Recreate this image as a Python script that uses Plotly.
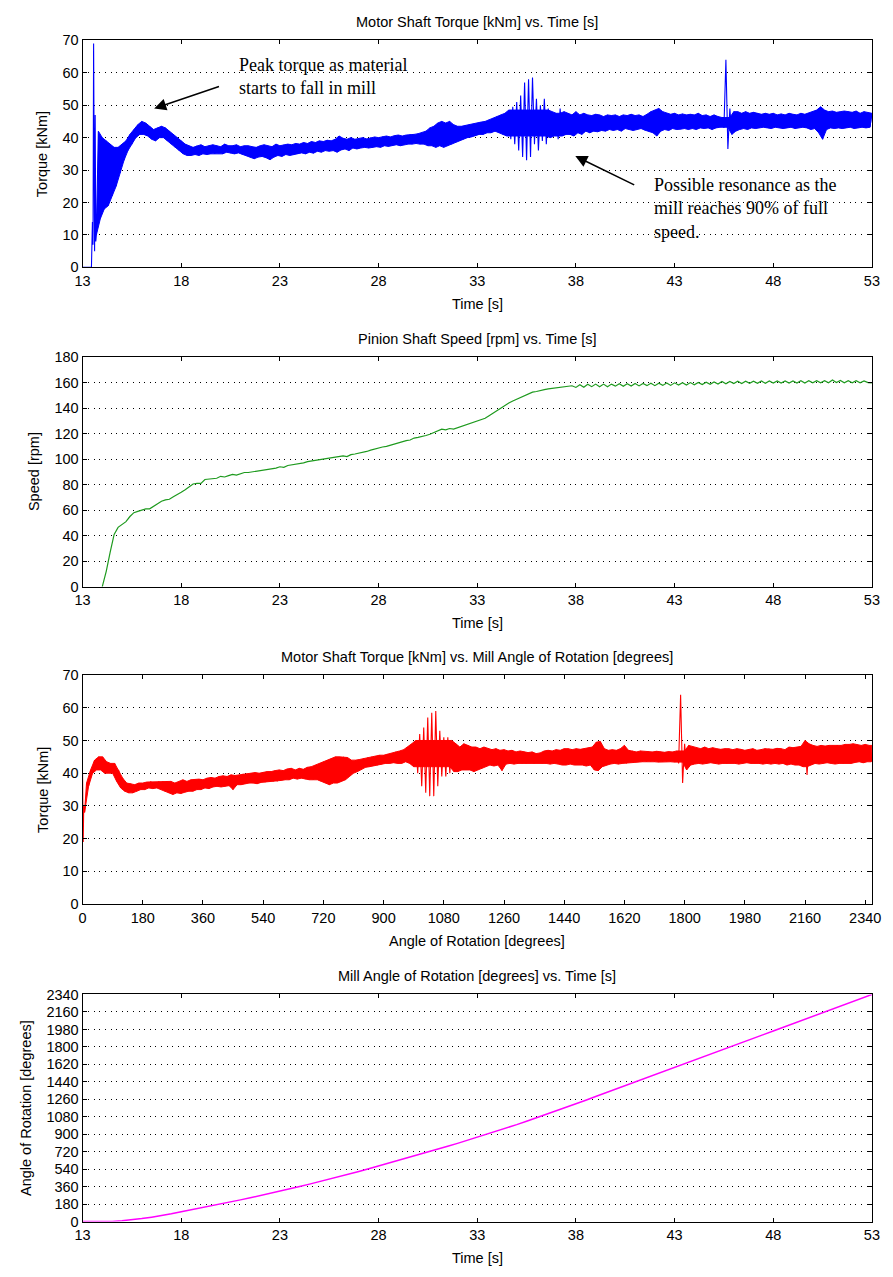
import numpy as np
import plotly.graph_objects as go

W, H = 893, 1277

# ---------------- Panel 1: Motor shaft torque vs time (blue) ----------------
torque_start_t = [13.0, 13.45, 13.5, 13.53, 13.56, 13.58, 13.61, 13.64, 13.67]
torque_start_v = [0, 0, 14, 7, 69, 12, 5, 47, 8]
torque_t0, torque_dt = 13.7, 0.2
torque_lo = [
    10, 15, 18, 19, 22, 25, 29, 33, 36, 38,
    40, 41, 41, 40.5, 39.5, 39, 40, 40, 39, 38,
    37, 36, 35, 34.5, 34.5, 34.8, 34.5, 35, 34.8, 35,
    35, 35.2, 35, 35.5, 35.2, 35, 35.3, 34.8, 34.5, 34,
    33.5, 34, 34.2, 33.8, 33.2, 34, 34.5, 34.2, 34.8, 34.5,
    34.8, 35, 35.3, 35, 35.5, 35.2, 35.8, 35.5, 36, 35.8,
    36, 35.5, 36.2, 36.5, 36, 36.8, 36.5, 36.8, 37, 36.8,
    37, 37.2, 37, 37.5, 37.3, 37.5, 37.8, 37.5, 37.8, 38,
    38, 38.2, 38, 38, 37.5, 37.5, 37, 37.5, 37, 37.5,
    38, 38.5, 39, 39.5, 40, 40.2, 40.5, 41, 41, 41.5,
    41.5, 42, 41.5, 41, 40.5, 39.5, 38, 36, 34, 33,
    34, 38, 36, 39, 38, 40, 40.5, 39.5, 40.5, 41,
    41, 40.5, 41.5, 41, 42, 41.5, 42, 41.8, 42.2, 42,
    42.5, 42.2, 42.5, 42, 42.8, 42.5, 42.2, 42.5, 42.8, 42.3,
    42, 41.5, 40.5, 42, 42.5, 42.2, 42.8, 42.5, 42.6, 42.8,
    42.5, 42.8, 42.5, 43, 42.8, 43, 42.5, 43, 43.2, 43,
    36.5, 41, 42, 42.5, 42.8, 42.5, 43, 42.8, 43, 43.2,
    43, 42.8, 43.2, 43, 42.8, 43, 43.2, 42.8, 43, 43.2,
    43, 42.5, 42.8, 41.5, 39.5, 42.5, 43, 42.8, 43, 42.8,
    43, 43.2, 42.8, 43, 43.2, 43, 43.2,
]
torque_hi = [
    42, 40, 39, 38, 37, 37, 38, 39, 41, 42.5,
    44, 45, 44.5, 43.5, 42.5, 43, 43.5, 43, 42, 41,
    40, 39, 38, 37.5, 37, 37.5, 37.8, 37.2, 37.5, 37.8,
    37.5, 37.2, 38, 37.5, 37.5, 37.8, 37.2, 37.5, 37.5, 37.2,
    37, 37.5, 37.8, 37.5, 37.2, 38, 37.5, 37.8, 38, 37.8,
    38.2, 38, 38.5, 38.2, 38.8, 38.5, 39, 38.8, 39.2, 39,
    39.5, 40.5, 39.8, 39.5, 40, 39.5, 39.8, 40, 39.6, 40,
    40.2, 40, 40.3, 40.5, 40.2, 40.6, 40.8, 40.5, 40.8, 41,
    41, 41.2, 41.5, 42, 43, 43.5, 44.5, 45, 44.5, 45,
    44, 43.5, 43.5, 43.8, 44, 44.2, 44.5, 44.8, 45, 45.5,
    46, 46.5, 47, 47.5, 48.5, 49.5, 51, 53, 57, 58,
    58.5, 52, 50, 52, 49, 48, 47.5, 49, 48, 47.5,
    47, 48, 47, 47.5, 47, 46.8, 47.2, 47, 46.5, 47,
    46.8, 47, 46.5, 47, 46.8, 47.2, 46.8, 47, 46.5, 47.2,
    48, 48.5, 49, 48, 47.5, 47.2, 47.5, 47, 47.3, 47,
    47.2, 47, 47.5, 46.8, 47, 46.5, 47, 46.5, 46.2, 64,
    49, 48, 48, 47.5, 48, 47.5, 47.8, 47.5, 47.2, 47.5,
    47.2, 47.5, 47, 47.3, 47, 47.5, 47.2, 47, 47.5, 47.2,
    47.5, 48, 48.5, 49.5, 48.5, 48, 48.2, 47.8, 48, 48.2,
    48, 47.8, 48.2, 47.5, 48, 47.8, 47.5,
]

# ---------------- Panel 2: Pinion shaft speed vs time (green) ----------------
speed_t0, speed_dt = 14.0, 0.2
speed_rpm = [
    0, 12, 27, 41, 46.5, 49, 51, 55, 58, 59,
    60, 61, 61, 63, 65.5, 67, 68, 68.5, 70.5, 72,
    74, 76, 78.5, 80.5, 81, 81, 84, 84.5, 84.5, 85,
    86.5, 86, 87, 88, 87.5, 88.5, 89.5, 89.5, 90, 90.5,
    91, 91.5, 92, 92, 93, 94, 93.5, 95, 95.5, 96,
    96, 97, 98, 98.5, 98.5, 99.5, 100, 100.5, 101, 101,
    102, 102.5, 102, 103.5, 104, 104.5, 105, 106, 107, 108,
    108.5, 109.5, 110, 111, 111.5, 112.5, 113.5, 114.5, 115, 116.5,
    117, 117.5, 118.5, 119.5, 121, 122.5, 123.5, 123, 124, 123.5,
    124.5, 126, 127, 128, 129, 130, 130.5, 132, 134, 136,
    138, 140, 142.5, 144, 145.5, 147, 148.5, 150, 151.5, 152.5,
    153, 154, 154.5, 155, 155.5, 155.5, 156.5, 157, 157, 157.5,
    156.2, 158.3, 156.3, 158.7, 156.8, 158.8, 156.8, 158.8, 156.8, 158.8,
    157.2, 159.1, 157.1, 159.1, 157.3, 159.3, 157.4, 159.3, 157.6, 159.5,
    157.6, 159.5, 157.8, 159.7, 157.8, 159.8, 158, 159.9, 158.1, 160,
    158.3, 160.1, 158.4, 160.3, 158.6, 160.5, 158.8, 160.8, 159.1, 160.9,
    159.2, 161, 159.3, 161.1, 159.4, 161.1, 159.4, 161.2, 159.5, 161.2,
    159.6, 161.3, 159.6, 161.3, 159.6, 161.3, 159.7, 161.4, 159.7, 161.4,
    159.8, 161.4, 159.8, 161.5, 159.8, 162, 160, 161.6, 159.9, 161.5,
    159.9, 161.5, 159.8, 161.3, 160, 159.8,
]

# ---------------- Panel 3: Torque vs mill angle (red) ----------------
red_start_a = [0, 0.8, 2, 3.5]
red_start_v = [40, 22, 19, 30]
red_a0, red_da = 6, 12
red_lo = [
    28, 36, 40, 41, 41, 40, 40, 40, 37.5, 35.5,
    34.5, 34, 34, 34.5, 35, 35, 35.5, 35.3, 35.5, 35,
    34.5, 34, 33.5, 34, 33.8, 34.2, 34.5, 34.5, 35, 35,
    35.5, 35.3, 35.8, 36, 35.8, 36, 36.2, 35, 36.5, 36.5,
    36.8, 37, 37, 36.8, 37.2, 37.3, 37.5, 37.5, 37.5, 37.8,
    38, 38, 38.5, 38.2, 38.5, 38.2, 38, 38, 38, 37.5,
    37, 36.5, 37, 37, 37.5, 38, 39, 40, 40.5, 41.2,
    41.8, 42, 42.3, 42.5, 42.8, 43, 43, 43.2, 43, 43,
    43.5, 43, 42, 40, 36, 34, 33, 33, 36, 39,
    39, 40, 40.5, 40.5, 41, 41, 41, 40.5, 41, 41.5,
    42, 42.5, 42.2, 42.5, 40.8, 42.8, 43, 42.8, 43, 43,
    43, 43.2, 43, 43.2, 43, 43, 42.8, 43, 42.8, 42.5,
    42.5, 42.8, 42.5, 42.6, 42.5, 42.2, 42.5, 41, 40.8, 42,
    42.5, 42.8, 43, 42.8, 43, 43, 43.2, 43.3, 43.5, 43.5,
    43.5, 43.6, 43.5, 43.4, 43.5, 43.6, 43.5, 43.4, 43, 37,
    41, 42.5, 42.8, 43, 42.8, 43, 43.2, 43, 42.8, 43,
    43, 43.2, 43, 42.8, 43, 43.2, 43, 43.1, 43, 42.8,
    43, 42.8, 43, 42.8, 43, 42.5, 42.8, 42.5, 42.5, 42,
    39.5, 42.5, 43, 42.8, 43, 43.2, 43, 42.8, 43, 43,
    43.2, 43, 43.3, 43.5, 43.2, 43.5, 43.5,
]
red_hi = [
    37, 41, 44, 45, 45, 43.5, 43, 43, 41, 38.5,
    37, 36.8, 36.5, 37, 37, 37.3, 37.5, 37.3, 37.5, 37.5,
    37.5, 37.5, 37, 37.5, 38, 37.5, 38, 38, 38.2, 38,
    38.5, 38.7, 38.5, 39, 39.2, 39, 39.5, 39.3, 39.5, 39.8,
    39.8, 40, 40.2, 40, 40.3, 40.5, 40.5, 40.8, 41, 40.8,
    41.3, 41.5, 41, 41.5, 41.2, 41.8, 42, 42.5, 42.8, 43.5,
    44, 44.5, 45, 45, 45, 44.8, 44, 44, 44.2, 44.5,
    44.8, 45, 45.2, 45.5, 45.5, 45.8, 46, 46.5, 46.8, 47.2,
    48, 49, 50, 52, 54, 57, 58.5, 59, 53, 51,
    51, 50, 49, 48, 49, 48.5, 48, 48, 47.5, 48,
    47.5, 47.2, 47.5, 47, 47.2, 46.8, 47, 46.5, 46.8, 46.5,
    46.3, 46.5, 46, 46.2, 46.8, 47, 46.8, 47.2, 47, 47.5,
    47.5, 47.2, 47.5, 47.3, 47.5, 47.8, 48, 49.5, 49.7, 47.5,
    47, 47.2, 47, 47.5, 48.5, 47, 46.8, 46.5, 46.8, 46.5,
    46.6, 46.5, 46.7, 46.5, 46.4, 46.6, 46.5, 46.8, 64, 49,
    48.5, 48, 47.8, 47.5, 48, 47.5, 47.8, 47.5, 47.3, 47.5,
    47.5, 47.2, 47.5, 47.3, 47, 47.2, 47.5, 47, 47.2, 47.5,
    47.5, 47.3, 47.6, 47.5, 47.2, 48, 47.8, 48, 48.2, 50,
    49, 48.5, 48.2, 48.5, 48.3, 48.5, 48.5, 48.6, 48.5, 48.8,
    48.8, 49, 48.7, 48.5, 48.8, 48.5, 48.5,
]

# ---------------- Panel 4: Mill angle vs time (magenta) ----------------
angle_t0, angle_dt = 13.0, 0.5
angle_deg = [
    0, 0, 0, 2, 8, 18, 31, 46, 62, 80,
    102, 121, 141, 161, 182, 203, 224, 245, 267, 289,
    312, 336, 361, 386, 411, 437, 463, 490, 517, 545,
    573, 601, 629, 658, 687, 716, 746, 776, 806, 837,
    868, 900, 932, 965, 999, 1034, 1069, 1105, 1141, 1177,
    1214, 1251, 1289, 1326, 1364, 1401, 1439, 1476, 1514, 1551,
    1589, 1626, 1664, 1701, 1739, 1776, 1814, 1851, 1889, 1926,
    1964, 2001, 2039, 2076, 2114, 2151, 2189, 2226, 2264, 2302,
    2340,
]

time_ticks = [13, 18, 23, 28, 33, 38, 43, 48, 53]
torque_ticks = [0, 10, 20, 30, 40, 50, 60, 70]
speed_ticks = [0, 20, 40, 60, 80, 100, 120, 140, 160, 180]
angle_ticks = [0, 180, 360, 540, 720, 900, 1080, 1260, 1440, 1620, 1800, 1980, 2160, 2340]

titles = ["Motor Shaft Torque [kNm] vs. Time [s]",
          "Pinion Shaft Speed [rpm] vs. Time [s]",
          "Motor Shaft Torque [kNm] vs. Mill Angle of Rotation [degrees]",
          "Mill Angle of Rotation [degrees] vs. Time [s]"]
xtitles = ["Time [s]", "Time [s]", "Angle of Rotation [degrees]", "Time [s]"]
ytitles = ["Torque [kNm]", "Speed [rpm]", "Torque [kNm]", "Angle of Rotation [degrees]"]


def zigzag(start_x, start_y, x0, dx, lo, hi):
    xs = list(start_x)
    ys = list(start_y)
    for i, (l, h) in enumerate(zip(lo, hi)):
        xv = x0 + i * dx
        xs += [xv, xv + dx / 2]
        ys += [l, h]
    return xs, ys


def band(x0, dx, lo, hi, max_width):
    """Solid core of the noise band; at isolated wide excursions the core
    keeps the last narrow envelope so only thin spike lines stick out."""
    fl, fh = [], []
    last = None
    for l, h in zip(lo, hi):
        if h - l <= max_width or last is None:
            fl.append(l)
            fh.append(h)
            if h - l <= max_width:
                last = (l, h)
        else:
            cl = max(l, last[0])
            ch = min(h, last[1])
            if ch < cl:
                cl, ch = l, h
            fl.append(cl)
            fh.append(ch)
    xl = [x0 + j * dx for j in range(len(fl))]
    xh = [x0 + j * dx + dx / 2 for j in range(len(fh))]
    return xl + xh[::-1], fl + fh[::-1]


FONT = "Liberation Sans, Arial, Helvetica, sans-serif"
SERIF = "Liberation Serif, Times New Roman, serif"
FS = 14.5

PX_L, PX_R = 76, 880.7
panels_px = [(32.7, 262.7), (353.5, 586), (675.5, 907.5), (999, 1229)]


def fx(px):
    return px / W


def fy(py):
    return 1 - py / H


fig = go.Figure()

fbx, fby = band(torque_t0, torque_dt, torque_lo, torque_hi, 9)
fig.add_trace(go.Scatter(x=fbx, y=fby, mode="lines", fill="toself", fillcolor="#0000ff",
                         line=dict(color="#0000ff", width=1), xaxis="x", yaxis="y",
                         showlegend=False, hoverinfo="skip"))
bx, by = zigzag(torque_start_t, torque_start_v, torque_t0, torque_dt, torque_lo, torque_hi)
fig.add_trace(go.Scatter(x=bx, y=by, mode="lines", line=dict(color="#0000ff", width=1.1),
                         xaxis="x", yaxis="y", showlegend=False, hoverinfo="skip"))

st = [speed_t0 + i * speed_dt for i in range(len(speed_rpm))]
fig.add_trace(go.Scatter(x=st, y=speed_rpm, mode="lines", line=dict(color="#1e9a1e", width=1.2),
                         xaxis="x2", yaxis="y2", showlegend=False, hoverinfo="skip"))

frx, fry = band(red_a0, red_da, red_lo, red_hi, 9)
fig.add_trace(go.Scatter(x=frx, y=fry, mode="lines", fill="toself", fillcolor="#ff0000",
                         line=dict(color="#ff0000", width=1), xaxis="x3", yaxis="y3",
                         showlegend=False, hoverinfo="skip"))
rx, ry = zigzag(red_start_a, red_start_v, red_a0, red_da, red_lo, red_hi)
fig.add_trace(go.Scatter(x=rx, y=ry, mode="lines", line=dict(color="#ff0000", width=1.1),
                         xaxis="x3", yaxis="y3", showlegend=False, hoverinfo="skip"))

at = [angle_t0 + i * angle_dt for i in range(len(angle_deg))]
fig.add_trace(go.Scatter(x=at, y=angle_deg, mode="lines", line=dict(color="#ff00ff", width=1.5),
                         xaxis="x4", yaxis="y4", showlegend=False, hoverinfo="skip"))

axis_common = dict(showline=True, linecolor="black", linewidth=1, mirror="ticks",
                   ticks="inside", ticklen=4, tickcolor="black", zeroline=False,
                   tickfont=dict(family=FONT, size=FS, color="black"))

xranges = [[13, 53], [13, 53], [0, 2360], [13, 53]]
xticks = [time_ticks, time_ticks, angle_ticks, time_ticks]
yranges = [[0, 70], [0, 180], [0, 70], [0, 2340]]
yticks = [torque_ticks, speed_ticks, torque_ticks, angle_ticks]

layout = dict(width=W, height=H, margin=dict(l=0, r=0, t=0, b=0),
              paper_bgcolor="white", plot_bgcolor="white", showlegend=False)
annotations = []
for i in range(4):
    top, bot = panels_px[i]
    sx = "" if i == 0 else str(i + 1)
    layout["xaxis" + sx] = dict(axis_common, domain=[fx(PX_L), fx(PX_R)], range=xranges[i],
                                tickvals=xticks[i], showgrid=False, anchor="y" + sx)
    layout["yaxis" + sx] = dict(axis_common, domain=[fy(bot), fy(top)], range=yranges[i],
                                tickvals=yticks[i], showgrid=True, gridcolor="black",
                                gridwidth=1, griddash="1px,4.6px", anchor="x" + sx)
    mid_x = (PX_L + PX_R) / 2
    annotations.append(dict(text=titles[i], x=fx(mid_x), y=fy(top - 18.7), xref="paper", yref="paper",
                            showarrow=False, xanchor="center", yanchor="middle",
                            font=dict(family=FONT, size=FS, color="black")))
    annotations.append(dict(text=xtitles[i], x=fx(mid_x), y=fy(bot + 37), xref="paper", yref="paper",
                            showarrow=False, xanchor="center", yanchor="middle",
                            font=dict(family=FONT, size=FS, color="black")))
    ytx = [35, 26.7, 35, 18.3][i]
    annotations.append(dict(text=ytitles[i], x=fx(ytx), y=fy((top + bot) / 2), xref="paper", yref="paper",
                            showarrow=False, xanchor="center", yanchor="middle", textangle=-90,
                            font=dict(family=FONT, size=FS, color="black")))

annotations.append(dict(text="Peak torque as material<br>starts to fall in mill", x=20.85, y=58.8,
                        xref="x", yref="y", showarrow=False, xanchor="left", yanchor="middle",
                        align="left", font=dict(family=SERIF, size=18, color="black")))
annotations.append(dict(text="Possible resonance as the<br>mill reaches 90% of full<br>speed.", x=41.86,
                        y=18.3, xref="x", yref="y", showarrow=False, xanchor="left", yanchor="middle",
                        align="left", font=dict(family=SERIF, size=18, color="black")))
annotations.append(dict(text="", x=16.63, y=49.0, ax=19.99, ay=55.9, xref="x", yref="y",
                        axref="x", ayref="y", showarrow=True, arrowhead=2, arrowsize=1.6,
                        arrowwidth=1.5, arrowcolor="black"))
annotations.append(dict(text="", x=37.97, y=34.3, ax=41.03, ay=25.2, xref="x", yref="y",
                        axref="x", ayref="y", showarrow=True, arrowhead=2, arrowsize=1.6,
                        arrowwidth=1.5, arrowcolor="black"))
layout["annotations"] = annotations

fig.update_layout(**layout)
fig.write_html("out.html", config={"displayModeBar": False},
               post_script="document.body.style.margin='0';")
